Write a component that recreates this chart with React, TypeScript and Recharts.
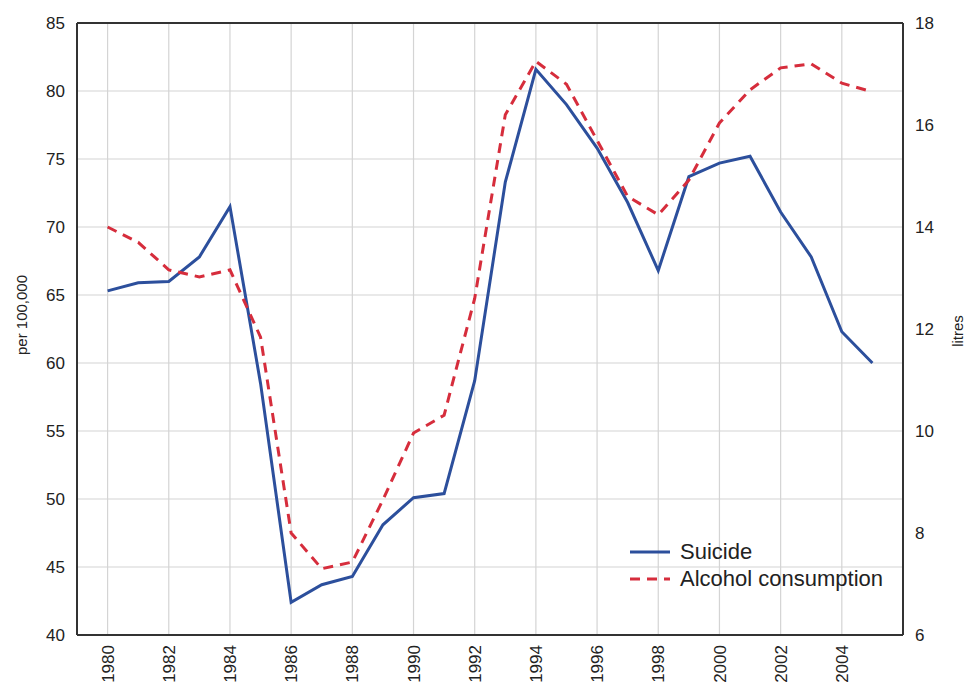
import React from 'react';
import { LineChart, Line, XAxis, YAxis, CartesianGrid, ReferenceLine } from 'recharts';

const years = [1980, 1981, 1982, 1983, 1984, 1985, 1986, 1987, 1988, 1989, 1990, 1991, 1992, 1993, 1994, 1995, 1996, 1997, 1998, 1999, 2000, 2001, 2002, 2003, 2004, 2005];
const suicide = [65.3, 65.9, 66.0, 67.8, 71.5, 58.5, 42.4, 43.7, 44.3, 48.1, 50.1, 50.4, 58.7, 73.3, 81.6, 79.0, 75.8, 71.8, 66.8, 73.7, 74.7, 75.2, 71.1, 67.8, 62.3, 60.0];
const alcohol = [14.0, 13.7, 13.16, 13.02, 13.16, 11.84, 8.0, 7.3, 7.43, 8.65, 9.96, 10.31, 12.6, 16.2, 17.25, 16.8, 15.7, 14.6, 14.24, 14.92, 16.04, 16.69, 17.12, 17.2, 16.82, 16.65];

const yearTicks = [1980, 1982, 1984, 1986, 1988, 1990, 1992, 1994, 1996, 1998, 2000, 2002, 2004];
const leftTicks = [40, 45, 50, 55, 60, 65, 70, 75, 80, 85];
const rightTicks = [6, 8, 10, 12, 14, 16, 18];

const seriesNames = ['Suicide', 'Alcohol consumption'];
const leftLabel = 'per 100,000';
const rightLabel = 'litres';

const BLUE = '#2c4f9c';
const RED = '#d62d3c';
const FONT = '"Liberation Sans", Arial, sans-serif';

const data = years.map((year, i) => ({ year, suicide: suicide[i], alcohol: alcohol[i] }));

function YearTick({ x, y, payload }: any) {
  const ty = y + 10;
  return (
    <text
      x={x}
      y={ty}
      dy="0.36em"
      transform={`rotate(-90, ${x}, ${ty})`}
      textAnchor="end"
      fontSize={17}
      fontFamily={FONT}
      fill="#222"
    >
      {payload.value}
    </text>
  );
}

export default function App() {
  return (
    <div style={{ position: 'absolute', left: 0, top: 0, width: 972, height: 688, background: '#fff' }}>
      <LineChart width={972} height={688} data={data} margin={{ top: 23, right: 0, bottom: 0, left: 0 }}>
        <CartesianGrid yAxisId="left" stroke="#d4d4d4" strokeWidth={1.2} />
        <XAxis
          dataKey="year"
          type="number"
          domain={[1979, 2006]}
          ticks={yearTicks}
          height={53}
          tickSize={0}
          tickMargin={0}
          tick={<YearTick />}
          axisLine={{ stroke: '#333', strokeWidth: 2 }}
          tickLine={false}
        />
        <YAxis
          yAxisId="left"
          domain={[40, 85]}
          ticks={leftTicks}
          width={77}
          tickSize={0}
          tickMargin={12}
          tickLine={false}
          axisLine={{ stroke: '#333', strokeWidth: 2 }}
          tick={{ fontSize: 17, fill: '#222', fontFamily: FONT }}
          label={() => (
            <text x={22} y={315} transform="rotate(-90, 22, 315)" textAnchor="middle" dy="0.36em" fontSize={15} fontFamily={FONT} fill="#222">
              {leftLabel}
            </text>
          )}
        />
        <YAxis
          yAxisId="right"
          orientation="right"
          domain={[6, 18]}
          ticks={rightTicks}
          width={69}
          tickSize={0}
          tickMargin={12}
          tickLine={false}
          axisLine={{ stroke: '#333', strokeWidth: 2 }}
          tick={{ fontSize: 17, fill: '#222', fontFamily: FONT }}
          label={() => (
            <text x={958} y={331} transform="rotate(-90, 958, 331)" textAnchor="middle" dy="0.36em" fontSize={15} fontFamily={FONT} fill="#222">
              {rightLabel}
            </text>
          )}
        />
        <ReferenceLine yAxisId="left" y={85} stroke="#333" strokeWidth={2} />
        <Line
          yAxisId="left"
          dataKey="suicide"
          name={seriesNames[0]}
          stroke={BLUE}
          strokeWidth={3}
          dot={false}
          isAnimationActive={false}
          strokeLinejoin="miter"
        />
        <Line
          yAxisId="right"
          dataKey="alcohol"
          name={seriesNames[1]}
          stroke={RED}
          strokeWidth={3}
          strokeDasharray="10 7"
          dot={false}
          isAnimationActive={false}
        />
      </LineChart>
      <div style={{ position: 'absolute', left: 628, top: 538, fontFamily: FONT, fontSize: 22, color: '#222', lineHeight: '27px' }}>
        {seriesNames.map((name, i) => (
          <div key={name} style={{ display: 'flex', alignItems: 'center' }}>
            <svg width={44} height={10} style={{ marginRight: 8 }}>
              <line x1={2} y1={5} x2={42} y2={5} stroke={i === 0 ? BLUE : RED} strokeWidth={3} strokeDasharray={i === 0 ? undefined : '10 7'} />
            </svg>
            <span>{name}</span>
          </div>
        ))}
      </div>
    </div>
  );
}
